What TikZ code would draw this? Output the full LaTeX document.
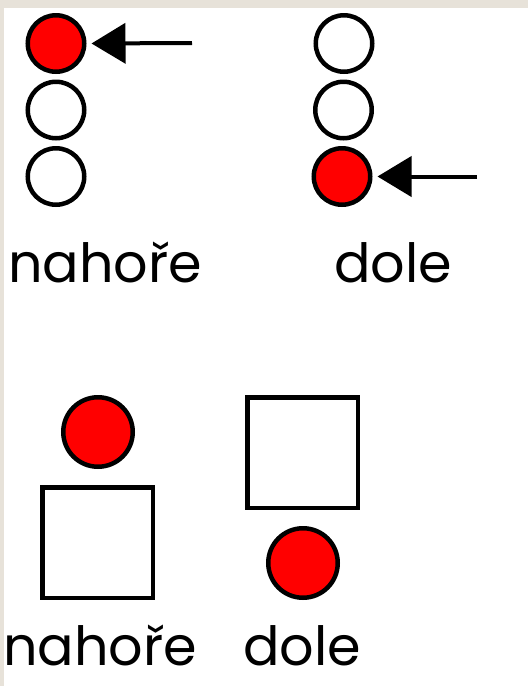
\documentclass[tikz,border=0pt]{standalone}
\usepackage{fontspec}
\setmainfont{Poppins}
\usetikzlibrary{arrows.meta}
\definecolor{beige}{RGB}{231,226,217}
\begin{document}
\begin{tikzpicture}[x=1pt,y=-1pt,
  dot/.style={circle,draw=black,line width=4.5pt,inner sep=0pt,minimum size=56.5pt,fill=white},
  reddot/.style={dot,fill=red},
  bigdot/.style={circle,draw=black,line width=4.5pt,inner sep=0pt,minimum size=69.5pt,fill=red},
  box/.style={rectangle,draw=black,line width=4.5pt,inner sep=0pt,minimum size=110.5pt,fill=white},
  pointer/.style={line width=4pt,-{Triangle[length=34pt,width=40pt]},shorten >=5pt},
  lbl/.style={anchor=base,inner sep=0pt,font=\fontsize{54}{58}\selectfont}]
\useasboundingbox (0,0) rectangle (528,686);
\fill[beige] (0,0) rectangle (528,686);
\fill[white] (4,8) rectangle (528,686);
% left column
\node[reddot] (l1) at (56,43.5) {};
\node[dot] (l2) at (56,110) {};
\node[dot] (l3) at (56,176.5) {};
\coordinate (la) at (192,43);
\draw[pointer] (la) -- (l1.east);
\node[lbl] (t1) at (105,282) {nahoře};
% right column
\node[dot] (r1) at (344,43.5) {};
\node[dot] (r2) at (343.5,110) {};
\node[reddot] (r3) at (342,176.5) {};
\coordinate (ra) at (477,176.5);
\draw[pointer] (ra) -- (r3.east);
\node[lbl] (t2) at (393,282) {dole};
% bottom
\node[bigdot] (b1) at (98,432) {};
\node[box] (s1) at (97.5,542.5) {};
\node[lbl] (t3) at (100,665) {nahoře};
\node[box] (s2) at (302.5,452.5) {};
\node[bigdot] (b2) at (303,563) {};
\node[lbl] (t4) at (302,665) {dole};
\end{tikzpicture}
\end{document}
